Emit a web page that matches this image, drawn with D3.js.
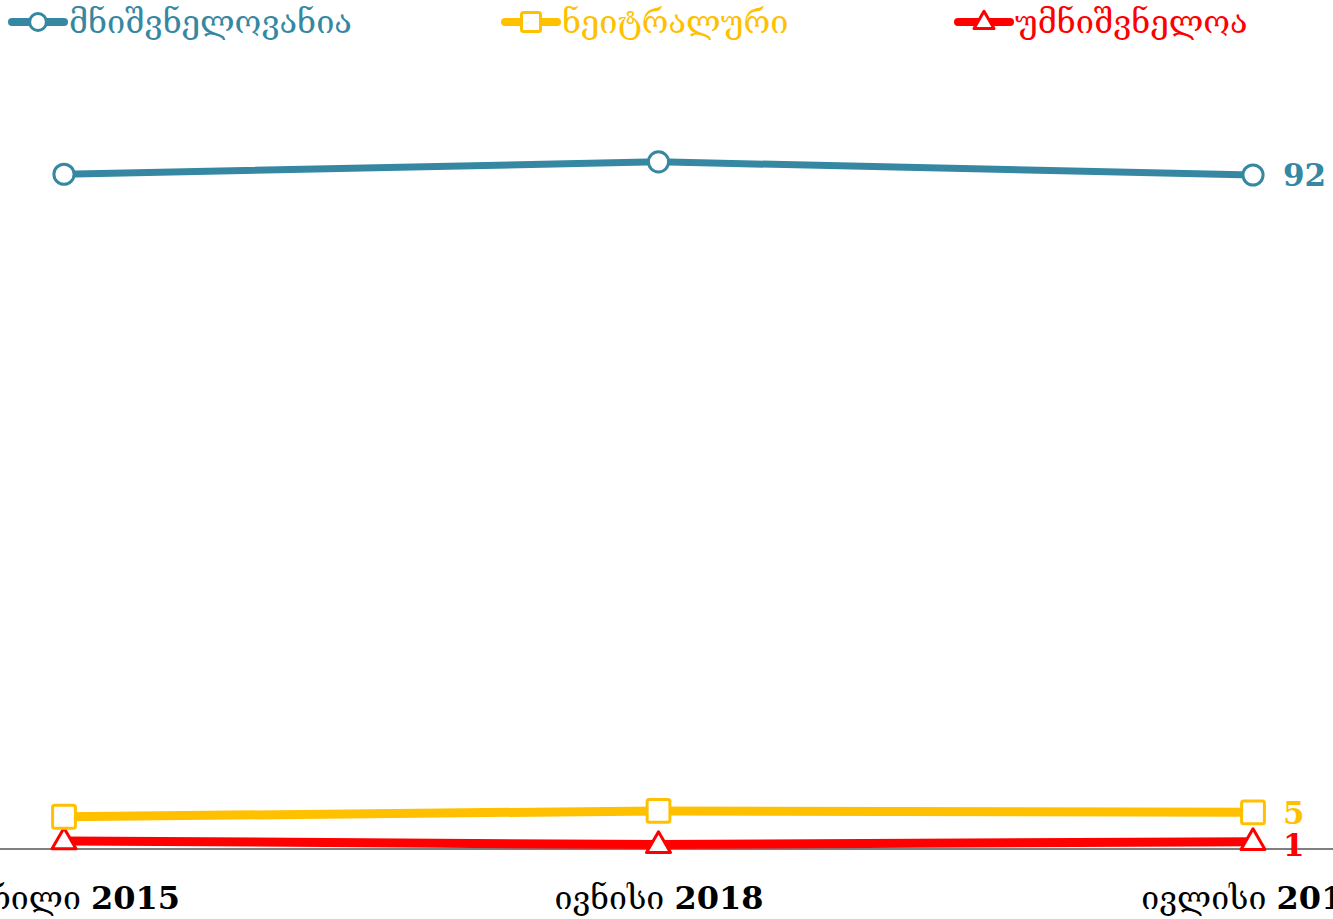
<!DOCTYPE html>
<html>
<head>
<meta charset="utf-8">
<script src="https://cdn.jsdelivr.net/npm/d3@7"></script>
<style>
  html, body { margin: 0; padding: 0; background: #fff; overflow: hidden; }
  svg { display: block; }
</style>
</head>
<body>
<svg id="chart" width="1333" height="919"></svg>
<script>
// Survey waves
const categories = ["აპრილი 2015", "ივნისი 2018", "ივლისი 2019"];

// Share of answers per wave (%)
const important   = [92.1, 93.8, 92];
const neutral     = [4.4, 5.2, 5];
const unimportant = [1.1, 0.6, 1];

const seriesNames  = ["მნიშვნელოვანია", "ნეიტრალური", "უმნიშვნელოა"];
const seriesColors = ["#3688a2", "#ffc000", "#ff0000"];
const seriesShapes = ["circle", "square", "triangle"];
const seriesValues = [important, neutral, unimportant];
const endLabels    = ["92", "5", "1"];

const W = 1333, H = 919;
const svg = d3.select("#chart");

const x = d3.scalePoint().domain(categories).range([64, 1253]);
const y = d3.scaleLinear().domain([0, 100]).range([849, 116.4]);

const series = seriesNames.map((name, i) => ({
  name,
  color: seriesColors[i],
  shape: seriesShapes[i],
  label: endLabels[i],
  values: seriesValues[i].map((v, j) => ({ cat: categories[j], v }))
}));

// Baseline axis with category labels
const xAxis = d3.axisBottom(x).tickSize(0).tickPadding(37);
const gx = svg.append("g").attr("transform", `translate(0,${y(0)})`).call(xAxis);
gx.select(".domain").remove();
gx.append("line")
  .attr("x1", 0).attr("x2", W)
  .attr("stroke", "#000").attr("stroke-width", 1.2);
gx.selectAll(".tick text")
  .attr("fill", "#000")
  .style("font-family", "'DejaVu Serif', serif")
  .style("font-size", "32px")
  .text(null)
  .each(function(d) {
    const parts = d.split(" ");
    const t = d3.select(this);
    t.append("tspan").style("font-weight", "normal").text(parts[0] + " ");
    t.append("tspan").style("font-weight", "bold").text(parts[1]);
  });

function drawMarker(g, shape, color, size) {
  if (shape === "circle") {
    g.append("circle").attr("r", size * 0.42)
      .attr("fill", "#fff").attr("stroke", color).attr("stroke-width", 3);
  } else if (shape === "square") {
    const s = size * 0.95;
    g.append("rect").attr("x", -s / 2).attr("y", -s / 2)
      .attr("width", s).attr("height", s).attr("rx", 2)
      .attr("fill", "#fff").attr("stroke", color).attr("stroke-width", 3);
  } else {
    const s = size;
    const h = s * Math.sqrt(3) / 2;
    g.append("path")
      .attr("d", `M0,${-h * 0.62} L${s / 2},${h * 0.38} L${-s / 2},${h * 0.38} Z`)
      .attr("fill", "#fff").attr("stroke", color).attr("stroke-width", 3)
      .attr("stroke-linejoin", "round");
  }
}

const line = d3.line().x(d => x(d.cat)).y(d => y(d.v));

// Draw in reverse so the most important series sits on top
series.slice().reverse().forEach(s => {
  const g = svg.append("g");
  g.append("path").datum(s.values)
    .attr("d", line)
    .attr("fill", "none")
    .attr("stroke", s.color)
    .attr("stroke-width", s.shape === "circle" ? 7 : 9)
    .attr("stroke-linecap", "round");
  s.values.forEach(d => {
    const m = g.append("g").attr("transform", `translate(${x(d.cat)},${y(d.v)})`);
    drawMarker(m, s.shape, s.color, 24);
  });
  const last = s.values[s.values.length - 1];
  g.append("text")
    .attr("x", x(last.cat) + 30)
    .attr("y", y(last.v) + (s.shape === "triangle" ? 3 : 0))
    .attr("dy", "0.36em")
    .attr("fill", s.color)
    .style("font-family", "'DejaVu Serif', serif")
    .style("font-weight", "bold")
    .style("font-size", "31px")
    .text(s.label);
});

// Legend
const legendX = [12, 505, 958];
series.forEach((s, i) => {
  const g = svg.append("g").attr("transform", `translate(${legendX[i]},22)`);
  g.append("line").attr("x1", 0).attr("x2", 52)
    .attr("stroke", s.color).attr("stroke-width", 8).attr("stroke-linecap", "round");
  const m = g.append("g").attr("transform", "translate(26,0)");
  drawMarker(m, s.shape, s.color, 20);
  g.append("text")
    .attr("x", 57).attr("y", 0).attr("dy", "0.35em")
    .attr("fill", s.color)
    .style("font-family", "'DejaVu Serif', serif")
    .style("font-size", "32.5px")
    .text(s.name);
});
</script>
</body>
</html>
